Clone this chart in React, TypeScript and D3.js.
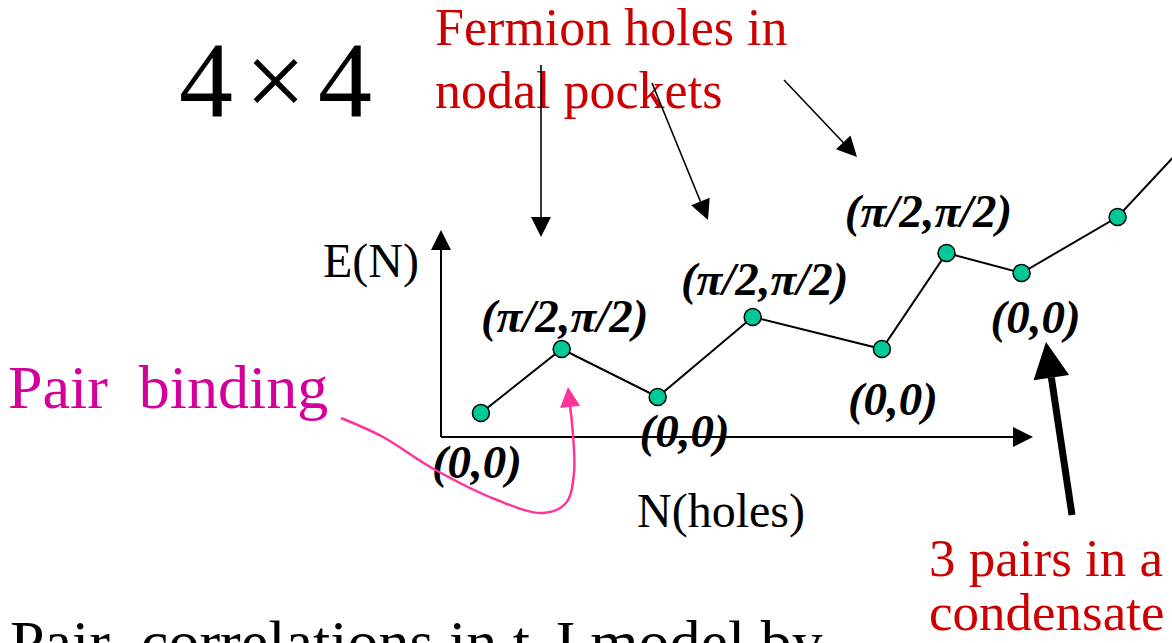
import * as d3 from 'd3';

// ground state energy E(N) vs number of holes on the 4x4 cluster
const holes = [0.42, 1.27, 2.28, 3.28, 4.64, 5.32, 6.11, 7.12, 8.0];
const energy = [2.4, 8.8, 4.0, 12.0, 8.8, 18.4, 16.4, 22.0, 31.0];
const momentum = ['(0,0)', '(π/2,π/2)', '(0,0)', '(π/2,π/2)', '(0,0)', '(π/2,π/2)', '(0,0)', '', ''];

// label placement relative to each point (center x, baseline y)
const labelOffsets = [[-4, 65], [3, -17], [27, 50], [12, -22], [11, 66], [-18, -26], [14, 60]];

const W = 1172;
const H = 643;
const serif = '"Liberation Serif", "Times New Roman", serif';

function arrowHead(x1: number, y1: number, x2: number, y2: number, len: number, half: number) {
    const a = Math.atan2(y2 - y1, x2 - x1);
    const bx = x2 - len * Math.cos(a);
    const by = y2 - len * Math.sin(a);
    const px = -Math.sin(a) * half;
    const py = Math.cos(a) * half;
    return {
        base: [bx, by],
        points: `${x2},${y2} ${bx + px},${by + py} ${bx - px},${by - py}`,
    };
}

function Arrow({x1, y1, x2, y2, len = 20, half = 10, sw = 1.6, color = '#000'}: any) {
    const h = arrowHead(x1, y1, x2, y2, len, half);
    return (
        <g>
            <line x1={x1} y1={y1} x2={h.base[0]} y2={h.base[1]} stroke={color} strokeWidth={sw} />
            <polygon points={h.points} fill={color} />
        </g>
    );
}

export default function App() {
    const x = d3.scaleLinear().domain([0, 6.23]).range([441, 1033]);
    const y = d3.scaleLinear().domain([0, 20.7]).range([437, 230]);

    const pts = holes.map((n, i) => [x(n), y(energy[i])] as [number, number]);
    const line = d3.line();

    const pinkPts: [number, number][] = [
        [341, 418], [383, 437], [432, 468], [497, 500], [543, 513],
        [566, 503], [574, 473], [572, 423], [570, 406],
    ];
    const pink = d3.line().curve(d3.curveCatmullRom)(pinkPts);
    const pinkHead = arrowHead(570, 406, 568, 387, 20, 10);

    return (
        <svg width={W} height={H} style={{position: 'absolute', left: 0, top: 0, background: '#fff'}}>
            {/* axes */}
            <Arrow x1={x(0)} y1={y(0)} x2={x(0)} y2={y(20.7)} len={20} half={10} sw={2} />
            <Arrow x1={x(0)} y1={y(0)} x2={x(6.23)} y2={y(0)} len={20} half={10} sw={2} />

            <text x={323} y={277} fontFamily={serif} fontSize={48}>E(N)</text>
            <text x={637} y={527} fontFamily={serif} fontSize={48}>N(holes)</text>

            <path d={line(pts) || ''} fill="none" stroke="#000" strokeWidth={2} />
            {pts.slice(0, 8).map((p, i) => (
                <circle key={i} cx={p[0]} cy={p[1]} r={8.5} fill="#00c896" stroke="#000" strokeWidth={1.5} />
            ))}

            {labelOffsets.map((o, i) => (
                <text key={i} x={pts[i][0] + o[0]} y={pts[i][1] + o[1]} textAnchor="middle"
                    fontFamily={serif} fontSize={47} fontWeight="bold" fontStyle="italic">
                    {momentum[i]}
                </text>
            ))}

            <text x={179} y={117} fontFamily={serif} fontSize={108} letterSpacing={12}>4×4</text>

            <text fontFamily={serif} fontSize={52} fill="#cc0000">
                <tspan x={435} y={45}>Fermion holes in</tspan>
                <tspan x={435} y={108}>nodal pockets</tspan>
            </text>
            <Arrow x1={541} y1={65} x2={541} y2={237} />
            <Arrow x1={652} y1={83} x2={708} y2={220} />
            <Arrow x1={784} y1={80} x2={857} y2={157} />

            <text x={8} y={408} fontFamily={serif} fontSize={62} fill="#d4009b" style={{whiteSpace: 'pre'}}>Pair  binding</text>
            <path d={pink || ''} fill="none" stroke="#ff3399" strokeWidth={2.5} />
            <polygon points={pinkHead.points} fill="#ff3399" />

            <Arrow x1={1072} y1={515} x2={1046} y2={342} len={36} half={18} sw={7} />
            <text x={929} y={576} fontFamily={serif} fontSize={53} fill="#cc0000">3 pairs in a</text>
            <text x={929} y={630} fontFamily={serif} fontSize={53} fill="#cc0000">condensate</text>

            <text x={10} y={663} fontFamily={serif} fontSize={62} style={{whiteSpace: 'pre'}}>Pair  correlations in t-J model by</text>
        </svg>
    );
}
